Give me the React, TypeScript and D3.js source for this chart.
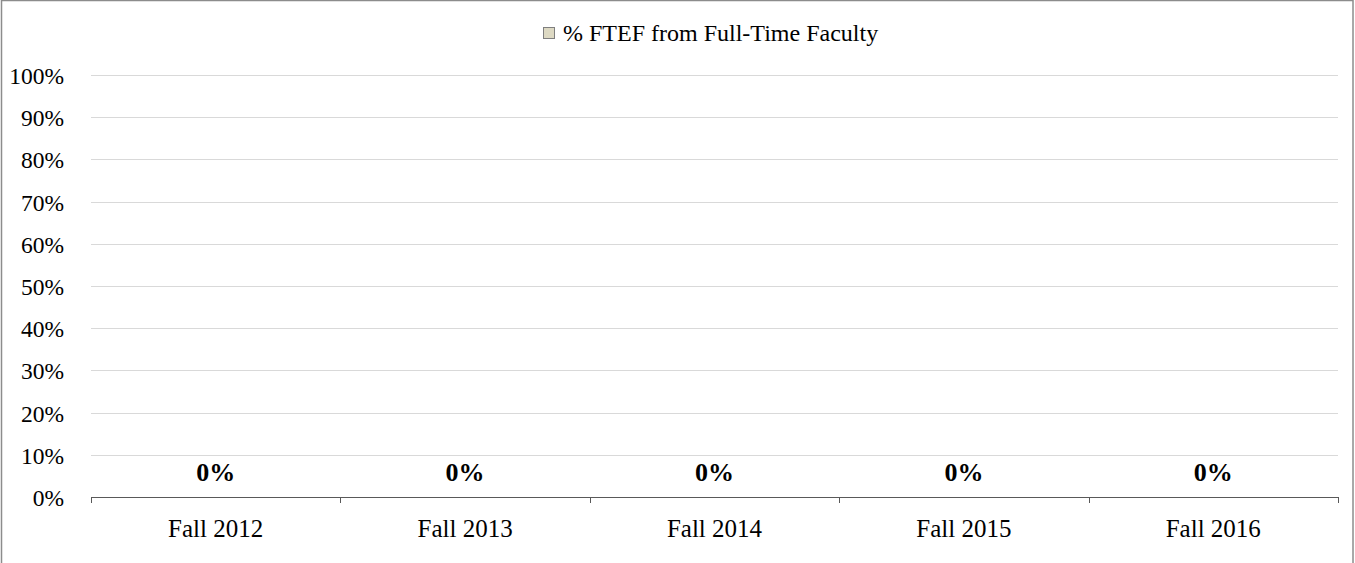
import { useMemo } from 'react'
import * as d3 from 'd3'

const WIDTH = 1355
const HEIGHT = 563
const MARGIN = { top: 75, right: 17, bottom: 66, left: 91 }

const categories = ['Fall 2012', 'Fall 2013', 'Fall 2014', 'Fall 2015', 'Fall 2016']
const ftefFullTime = [0, 0, 0, 0, 0]
const yTicks = [0, 0.1, 0.2, 0.3, 0.4, 0.5, 0.6, 0.7, 0.8, 0.9, 1]
const seriesName = '% FTEF from Full-Time Faculty'

const FONT = '"Liberation Serif", "Times New Roman", serif'

export default function App() {
  const innerWidth = WIDTH - MARGIN.left - MARGIN.right
  const innerHeight = 497 - MARGIN.top

  const x = useMemo(() => d3.scaleBand<string>().domain(categories).range([0, innerWidth]).paddingInner(0.4).paddingOuter(0.2), [innerWidth])
  const xTicks = useMemo(() => d3.scaleLinear().domain([0, categories.length]).range([0, innerWidth]), [innerWidth])
  const y = useMemo(() => d3.scaleLinear().domain([0, 1]).range([innerHeight, 0]), [innerHeight])
  const fmt = d3.format('.0%')

  return (
    <svg width={WIDTH} height={HEIGHT} style={{ position: 'absolute', left: 0, top: 0, background: '#fff' }} fontFamily={FONT}>
      <rect x={1.5} y={0.5} width={WIDTH - 3.5} height={HEIGHT + 20} fill="#fff" stroke="#8c8c8c" strokeWidth={1.5} />

      {/* Legend */}
      <g transform="translate(543, 33)">
        <rect x={0.5} y={-5.5} width={11} height={11} fill="#ddd9c3" stroke="#7f7f7f" strokeWidth={1} />
        <text x={20} y={0} dominantBaseline="central" fontSize={24} fill="#000">{seriesName}</text>
      </g>

      <g transform={`translate(${MARGIN.left}, ${MARGIN.top})`}>
        {/* gridlines + y labels */}
        {yTicks.map(t => (
          <g key={t} transform={`translate(0, ${Math.round(y(t)) + 0.5})`}>
            {t > 0 && <line x1={0} x2={innerWidth} stroke="#d9d9d9" strokeWidth={1} />}
            <text x={-27} dominantBaseline="central" textAnchor="end" fontSize={23.5} fill="#000">{fmt(t)}</text>
          </g>
        ))}

        {/* bars (zero height) */}
        {categories.map((c, i) => (
          <rect key={c} x={x(c)} y={y(ftefFullTime[i])} width={x.bandwidth()} height={innerHeight - y(ftefFullTime[i])} fill="#ddd9c3" />
        ))}

        {/* x axis */}
        <line x1={0} x2={innerWidth} y1={innerHeight + 0.5} y2={innerHeight + 0.5} stroke="#595959" strokeWidth={1} />
        {d3.range(categories.length + 1).map(i => (
          <line key={i} x1={Math.round(xTicks(i)) + 0.5} x2={Math.round(xTicks(i)) + 0.5} y1={innerHeight} y2={innerHeight + 6} stroke="#595959" strokeWidth={1} />
        ))}
        {categories.map(c => (
          <text key={c} x={x(c)! + x.bandwidth() / 2} y={innerHeight + 31} textAnchor="middle" dominantBaseline="central" fontSize={25} fill="#000">{c}</text>
        ))}

        {/* value labels */}
        {categories.map((c, i) => (
          <text key={c} x={x(c)! + x.bandwidth() / 2} y={y(ftefFullTime[i]) - 25} textAnchor="middle" dominantBaseline="central" fontSize={26} fontWeight="bold" fill="#000">{fmt(ftefFullTime[i])}</text>
        ))}
      </g>
    </svg>
  )
}
